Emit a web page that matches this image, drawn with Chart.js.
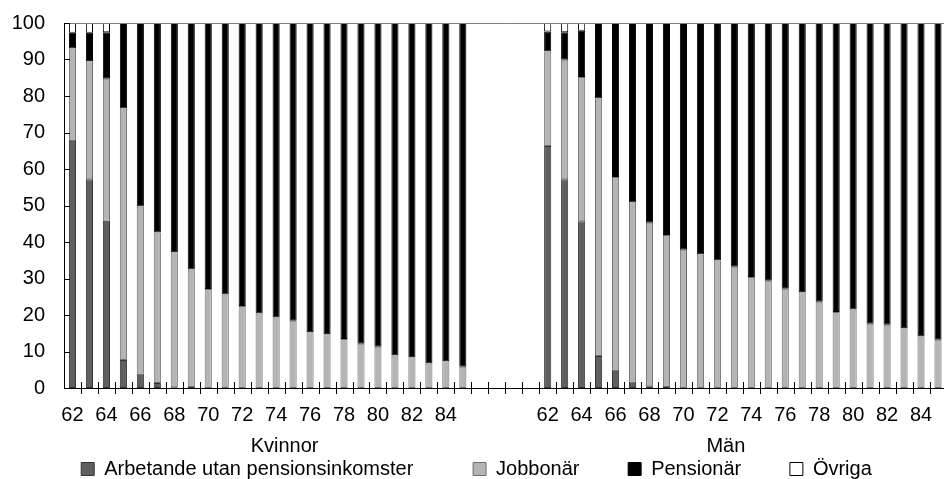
<!DOCTYPE html>
<html>
<head>
<meta charset="utf-8">
<script src="https://cdn.jsdelivr.net/npm/chart.js@4.4.1/dist/chart.umd.min.js"></script>
<style>
  html, body { margin: 0; padding: 0; overflow: hidden; background: #fff; }
  #wrap { position: relative; width: 953px; height: 489px; }
</style>
</head>
<body>
<div id="wrap"><canvas id="chart"></canvas></div>
<script>
// åldrar per grupp
var ages = ['62','63','64','65','66','67','68','69','70','71','72','73','74','75','76','77','78','79','80','81','82','83','84','85'];
var groupNames = ['Kvinnor', 'Män'];
var gapSlots = 4;

// Kvinnor, andel i procent
var kvArbetande = [68.1, 57.2, 45.8, 7.7, 4.0, 1.4, 0.2, 0.3, 0, 0, 0, 0, 0, 0, 0, 0, 0, 0, 0, 0, 0, 0, 0, 0];
var kvJobbonar  = [24.9, 32.3, 38.9, 68.9, 45.7, 41.2, 37.0, 32.2, 27.1, 25.6, 22.5, 20.4, 19.3, 18.4, 15.3, 14.7, 13.4, 12.1, 11.3, 8.9, 8.4, 6.7, 7.3, 5.8];
var kvPensionar = [4.3, 7.8, 12.8, 23.4, 50.3, 57.4, 62.8, 67.5, 72.9, 74.4, 77.5, 79.6, 80.7, 81.6, 84.7, 85.3, 86.6, 87.9, 88.7, 91.1, 91.6, 93.3, 92.7, 94.2];
var kvOvriga    = [2.7, 2.7, 2.5, 0, 0, 0, 0, 0, 0, 0, 0, 0, 0, 0, 0, 0, 0, 0, 0, 0, 0, 0, 0, 0];

// Män, andel i procent
var manArbetande = [66.3, 57.2, 45.7, 8.8, 5.1, 1.8, 0.5, 0.3, 0, 0, 0, 0, 0, 0, 0, 0, 0, 0, 0, 0, 0, 0, 0, 0];
var manJobbonar  = [25.9, 32.7, 39.5, 70.5, 52.7, 49.0, 44.8, 41.6, 37.9, 36.6, 34.9, 33.2, 30.4, 29.4, 27.2, 26.2, 23.6, 20.8, 21.5, 17.6, 17.3, 16.4, 14.1, 13.2];
var manPensionar = [5.5, 7.6, 12.7, 20.7, 42.2, 49.2, 54.7, 58.1, 62.1, 63.4, 65.1, 66.8, 69.6, 70.6, 72.8, 73.8, 76.4, 79.2, 78.5, 82.4, 82.7, 83.6, 85.9, 86.8];
var manOvriga    = [2.3, 2.5, 2.1, 0, 0, 0, 0, 0, 0, 0, 0, 0, 0, 0, 0, 0, 0, 0, 0, 0, 0, 0, 0, 0];

var seriesNames = ['Arbetande utan pensionsinkomster', 'Jobbonär', 'Pensionär', 'Övriga'];

// tomma platser mellan grupperna
var gap = [];
for (var g = 0; g < gapSlots; g++) gap.push(null);
var gapLabels = gap.map(function() { return ''; });

var labels = ages.concat(gapLabels, ages);
function join(a, b) { return a.concat(gap, b); }

Chart.defaults.font.family = '"Liberation Sans", Arial, sans-serif';
Chart.defaults.font.size = 20;
Chart.defaults.color = '#000';

var fillColors = ['#5f5f5f', '#b4b4b4', '#000000', '#ffffff'];
var edgeColors = ['#333333', '#707070', '#000000', '#000000'];
var values = [
  join(kvArbetande, manArbetande),
  join(kvJobbonar, manJobbonar),
  join(kvPensionar, manPensionar),
  join(kvOvriga, manOvriga)
];

var datasets = seriesNames.map(function(name, i) {
  return {
    label: name,
    data: values[i],
    backgroundColor: fillColors[i],
    borderColor: edgeColors[i],
    borderWidth: 1,
    borderSkipped: false,
    barPercentage: 0.42,
    categoryPercentage: 1
  };
});

// extra luft efter varje legendtext
var legendTrail = [5, 3, 3, 0];

// tickmarkeringar, ram och gruppnamn
var decor = {
  id: 'decor',
  afterDraw: function(chart) {
    var ctx = chart.ctx, a = chart.chartArea;
    var x = chart.scales.x, y = chart.scales.y;
    ctx.save();
    ctx.lineWidth = 1;
    ctx.strokeStyle = '#808080';
    ctx.beginPath();
    ctx.moveTo(a.left, Math.round(a.top) + 0.5);
    ctx.lineTo(a.right, Math.round(a.top) + 0.5);
    ctx.stroke();

    ctx.strokeStyle = '#000';
    ctx.beginPath();
    y.ticks.forEach(function(t) {
      var py = Math.round(y.getPixelForValue(t.value)) + 0.5;
      ctx.moveTo(a.left, py);
      ctx.lineTo(a.left + 6, py);
    });
    var axisY = Math.round(a.bottom);
    for (var i = 1; i < labels.length; i++) {
      var px = Math.round((x.getPixelForValue(i - 1) + x.getPixelForValue(i)) / 2) + 0.5;
      ctx.moveTo(px, axisY - 6);
      ctx.lineTo(px, axisY + 6);
    }
    ctx.stroke();

    ctx.fillStyle = '#000';
    ctx.font = '20px "Liberation Sans", Arial, sans-serif';
    ctx.textAlign = 'center';
    ctx.textBaseline = 'middle';
    var n = ages.length;
    var kx = (x.getPixelForValue(12) + x.getPixelForValue(13)) / 2;
    var mx = (x.getPixelForValue(n + gapSlots + 10) + x.getPixelForValue(n + gapSlots + 11)) / 2;
    ctx.fillText(groupNames[0], kx, 446);
    ctx.fillText(groupNames[1], mx, 446);
    ctx.restore();
  }
};

var context = document.getElementById('chart').getContext('2d');
var myChart = new Chart(context, {
  type: 'bar',
  data: { labels: labels, datasets: datasets },
  plugins: [decor],
  options: {
    responsive: true,
    maintainAspectRatio: false,
    animation: false,
    layout: { padding: { top: 0, right: 0, left: 0, bottom: 0 } },
    plugins: {
      tooltip: { enabled: false },
      legend: {
        position: 'bottom',
        labels: {
          boxWidth: 13, boxHeight: 13, padding: 32, color: '#000', font: { size: 20 },
          generateLabels: function(chart) {
            var items = Chart.defaults.plugins.legend.labels.generateLabels(chart);
            items.forEach(function(it, i) {
              it.text = it.text + ' '.repeat(legendTrail[i]);
            });
            return items;
          }
        }
      }
    },
    scales: {
      x: {
        stacked: true,
        grid: { display: false, drawTicks: false },
        border: { display: true, color: '#000', width: 1 },
        ticks: {
          autoSkip: false, maxRotation: 0, padding: 15, color: '#000',
          callback: function(v, i) {
            var l = labels[i];
            return l !== '' && Number(l) % 2 === 0 ? l : '';
          }
        },
        afterFit: function(s) { s.height = 39; }
      },
      y: {
        stacked: true,
        min: 0, max: 100,
        grid: { display: false, drawTicks: true, tickLength: 8 },
        border: { display: true, color: '#000', width: 1 },
        ticks: { stepSize: 10, padding: 11, color: '#000' },
        afterFit: function(s) { s.width = 64; }
      }
    }
  }
});
</script>
</body>
</html>
